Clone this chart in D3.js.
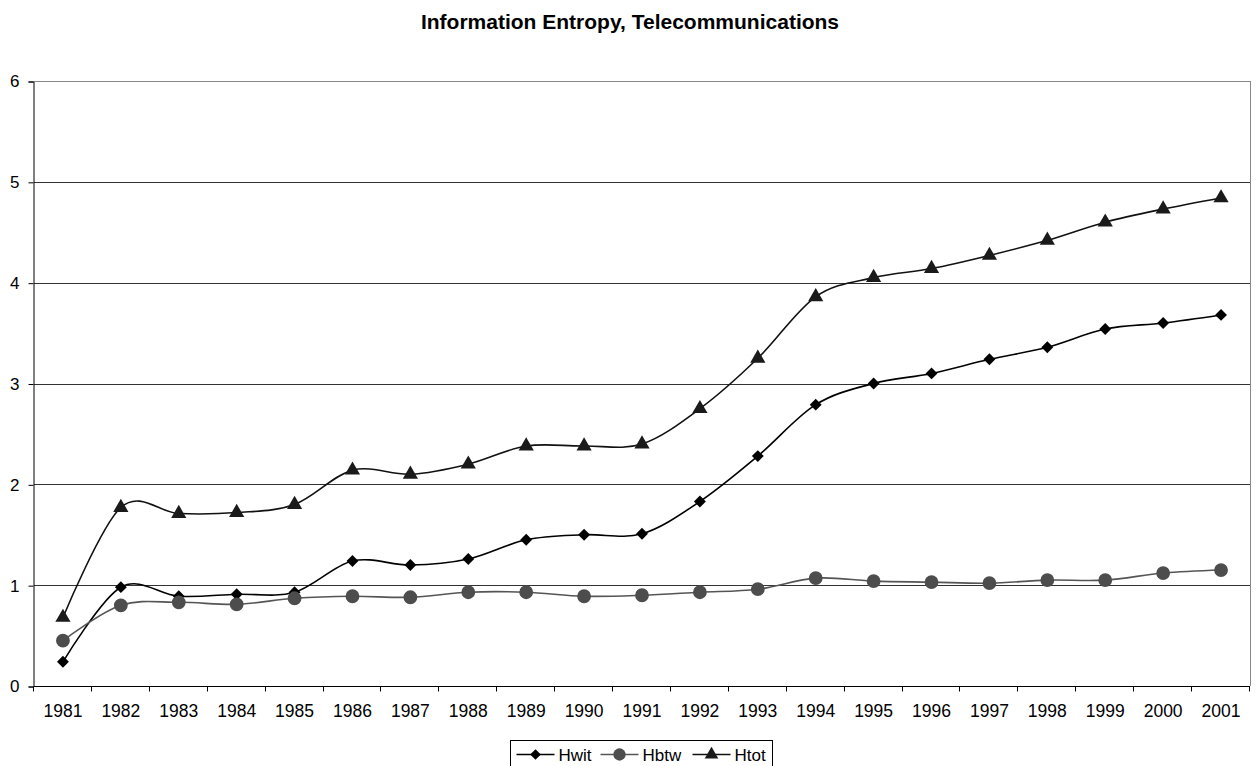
<!DOCTYPE html>
<html>
<head>
<meta charset="utf-8">
<script src="https://cdn.jsdelivr.net/npm/d3@7"></script>
<style>
    body { margin: 0; background: #fff; }
    text { font-family: "Liberation Sans", Arial, sans-serif; }
</style>
</head>
<body>
<script>
// years on the category axis
const years = ["1981", "1982", "1983", "1984", "1985", "1986", "1987", "1988", "1989", "1990", "1991",
    "1992", "1993", "1994", "1995", "1996", "1997", "1998", "1999", "2000", "2001"];
const hwit = [0.24, 0.98, 0.89, 0.91, 0.93, 1.24, 1.20, 1.26, 1.45, 1.50, 1.51,
    1.83, 2.28, 2.79, 3.00, 3.10, 3.24, 3.36, 3.54, 3.60, 3.68];
const hbtw = [0.45, 0.80, 0.83, 0.81, 0.87, 0.89, 0.88, 0.93, 0.93, 0.89, 0.90,
    0.93, 0.96, 1.07, 1.04, 1.03, 1.02, 1.05, 1.05, 1.12, 1.15];
const htot = [0.68, 1.77, 1.71, 1.72, 1.80, 2.14, 2.10, 2.20, 2.38, 2.38, 2.40,
    2.75, 3.25, 3.86, 4.05, 4.14, 4.27, 4.42, 4.60, 4.73, 4.84];
const yTicks = [0, 1, 2, 3, 4, 5, 6];

const width = 1256, height = 766;
let margin = { top: 81, right: 6, bottom: 80, left: 34 };

let svg = d3.select("body").append("svg")
    .attr("width", width)
    .attr("height", height);

svg.append("text")
    .attr("x", 630)
    .attr("y", 29)
    .attr("text-anchor", "middle")
    .style("font-weight", "bold")
    .style("font-size", "21px")
    .text("Information Entropy, Telecommunications");

let xScale = d3.scaleBand()
    .domain(years)
    .range([margin.left, width - margin.right]);

let yScale = d3.scaleLinear()
    .domain([0, 6])
    .range([686, margin.top]);

// gridlines
svg.append("g")
    .selectAll("line")
    .data(yTicks.slice(1))
    .join("line")
    .attr("x1", margin.left)
    .attr("x2", width - margin.right)
    .attr("y1", d => Math.round(yScale(d)) + 0.5)
    .attr("y2", d => Math.round(yScale(d)) + 0.5)
    .attr("stroke", d => d === 6 ? "#888" : "#333")
    .attr("stroke-width", 1);

// right border
svg.append("line")
    .attr("x1", width - margin.right + 0.5).attr("x2", width - margin.right + 0.5)
    .attr("y1", yScale(6)).attr("y2", yScale(0))
    .attr("stroke", "#888");

// y axis
let yAxis = svg.append("g")
    .attr("transform", "translate(" + (margin.left - 0.5) + ",0.5)")
    .call(d3.axisLeft(yScale).tickValues(yTicks).tickFormat(d3.format("d")).tickSize(5).tickPadding(9));
yAxis.select(".domain").attr("stroke", "#000");
yAxis.selectAll(".tick line").attr("stroke", "#000");
yAxis.selectAll("text").style("font-size", "17px").style("font-family", "Liberation Sans, Arial, sans-serif").attr("fill", "#000");

// x axis: ticks sit on band boundaries
let xAxisG = svg.append("g")
    .attr("transform", "translate(0," + (Math.round(yScale(0)) + 0.5) + ")");
xAxisG.append("line")
    .attr("x1", margin.left).attr("x2", width - margin.right)
    .attr("stroke", "#000");
xAxisG.selectAll("line.tk")
    .data(years.concat(["end"]))
    .join("line")
    .attr("class", "tk")
    .attr("x1", (d, i) => Math.round(margin.left + i * xScale.step()) - 0.5)
    .attr("x2", (d, i) => Math.round(margin.left + i * xScale.step()) - 0.5)
    .attr("y1", 0).attr("y2", 5)
    .attr("stroke", "#000");
xAxisG.selectAll("text")
    .data(years)
    .join("text")
    .attr("x", d => xScale(d) + xScale.bandwidth() / 2)
    .attr("y", 30)
    .attr("text-anchor", "middle")
    .style("font-size", "17.5px")
    .text(d => d);

const cx = i => xScale(years[i]) + xScale.bandwidth() / 2;

let series = [
    { name: "Hwit", values: hwit, line: "#000", fill: "#000", shape: d3.symbolDiamond2, size: 90 },
    { name: "Hbtw", values: hbtw, line: "#555", fill: "#4d4d4d", shape: d3.symbolCircle, size: 150 },
    { name: "Htot", values: htot, line: "#111", fill: "#1a1a1a", shape: d3.symbolTriangle, size: 100 }
];

let line = d3.line()
    .x((d, i) => cx(i))
    .y(d => yScale(d))
    .curve(d3.curveCardinal.tension(0));

series.forEach(s => {
    svg.append("path")
        .datum(s.values)
        .attr("fill", "none")
        .attr("stroke", s.line)
        .attr("stroke-width", 1.6)
        .attr("d", line);
    svg.append("g")
        .selectAll("path")
        .data(s.values)
        .join("path")
        .attr("transform", (d, i) => "translate(" + cx(i) + "," + yScale(d) + ")")
        .attr("d", d3.symbol().type(s.shape).size(s.size))
        .attr("fill", s.fill);
});

// legend
let legend = svg.append("g").attr("transform", "translate(510.5,740.5)");
legend.append("rect")
    .attr("width", 262).attr("height", 40)
    .attr("fill", "#fff").attr("stroke", "#000");
const legendX = [6, 90, 182];
series.forEach((s, i) => {
    let g = legend.append("g").attr("transform", "translate(" + legendX[i] + ",14)");
    g.append("line").attr("x1", 0).attr("x2", 38).attr("stroke", s.line).attr("stroke-width", 1.6);
    g.append("path")
        .attr("transform", "translate(19,0)")
        .attr("d", d3.symbol().type(s.shape).size(s.size * 0.8))
        .attr("fill", s.fill);
    g.append("text").attr("x", 42).attr("y", 6.5).style("font-size", "17px").text(s.name);
});
</script>
</body>
</html>
